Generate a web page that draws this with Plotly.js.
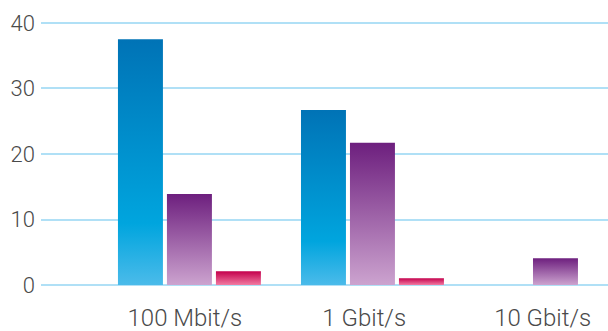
<!DOCTYPE html>
<html><head><meta charset="utf-8">
<script src="https://cdn.plot.ly/plotly-3.0.1.min.js"></script>
<style>html,body{margin:0;padding:0;background:#fff;}</style>
</head><body><div id="chart" style="width:608px;height:331px;"></div>
<script>
const categories = ["100 Mbit/s", "1 Gbit/s", "10 Gbit/s"];
const seriesBlue = [37.5, 26.7, 0];
const seriesPurple = [13.9, 21.7, 4.1];
const seriesRed = [2.1, 1.05, 0];
const yTicks = [0, 10, 20, 30, 40];

const xIdx = categories.map((c, i) => i);
const gradients = [
  {id: "gBlue", stops: [["0%", "#0073b6"], ["75%", "#00a5de"], ["100%", "#4bbbea"]]},
  {id: "gPurple", stops: [["0%", "#6d1f7e"], ["100%", "#cca3cf"]]},
  {id: "gRed", stops: [["0%", "#c4004c"], ["100%", "#f17ba2"]]}
];
const mk = (y, col) => ({type: "bar", x: xIdx, y: y, marker: {color: col, line: {width: 0}}, hoverinfo: "none"});
const data = [mk(seriesBlue, "#00a0dc"), mk(seriesPurple, "#9b5ba5"), mk(seriesRed, "#e0306f")];
const yfont = {family: "Roboto, 'Open Sans', sans-serif", size: 22, color: "#4a4a4a", weight: 300};
const xfont = {family: "Roboto, 'Open Sans', sans-serif", size: 24, color: "#4a4a4a", weight: 300};
const layout = {
  width: 608, height: 331,
  margin: {l: 41, r: 0, t: 21, b: 44},
  paper_bgcolor: "#fff", plot_bgcolor: "#fff",
  showlegend: false,
  barmode: "group", bargap: 0.197, bargroupgap: 0.082,
  font: yfont,
  xaxis: {range: [-0.811, 2.287], tickvals: [-0.025, 0.955, 1.93], ticktext: categories,
          showgrid: false, zeroline: false, showline: false, ticks: "", tickfont: xfont, ticklabelstandoff: 14},
  yaxis: {range: [-0.3, 40.3], tickvals: yTicks, showgrid: true, gridcolor: "#b0e0f6", gridwidth: 2,
          zeroline: false, showline: false, ticks: "", tickfont: yfont, ticklabelstandoff: 5}
};
Plotly.newPlot("chart", data, layout, {staticPlot: true}).then(() => {
  const svg = document.querySelector("#chart svg.main-svg");
  const ns = "http://www.w3.org/2000/svg";
  let defs = svg.querySelector("defs");
  if (!defs) { defs = document.createElementNS(ns, "defs"); svg.insertBefore(defs, svg.firstChild); }
  gradients.forEach(g => {
    const lg = document.createElementNS(ns, "linearGradient");
    lg.setAttribute("id", g.id); lg.setAttribute("x1", "0"); lg.setAttribute("y1", "0");
    lg.setAttribute("x2", "0"); lg.setAttribute("y2", "1");
    g.stops.forEach(s => {
      const st = document.createElementNS(ns, "stop");
      st.setAttribute("offset", s[0]); st.setAttribute("stop-color", s[1]);
      lg.appendChild(st);
    });
    defs.appendChild(lg);
  });
  document.querySelectorAll("#chart .trace.bars").forEach((tr, i) => {
    tr.querySelectorAll("path").forEach(p => { p.style.fill = "url(#" + gradients[i].id + ")"; });
  });
});
</script></body></html>
